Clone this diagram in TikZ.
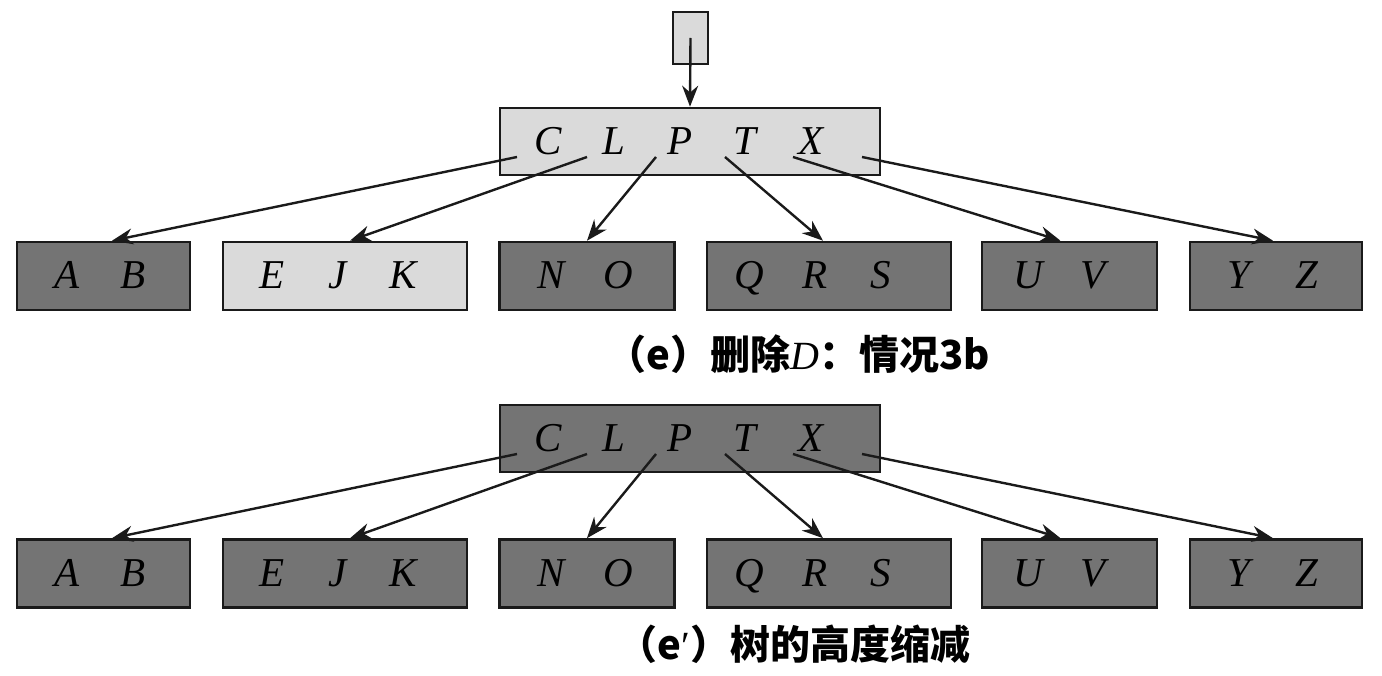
\documentclass[tikz,border=0pt]{standalone}
\usepackage{fontspec}
\setmainfont{Liberation Serif}
\newfontfamily\cjk{Noto Sans CJK SC}
\usetikzlibrary{arrows.meta}
\definecolor{darkfill}{HTML}{747474}
\definecolor{lightfill}{HTML}{DADADA}
\definecolor{ink}{HTML}{1A1A1A}
\newcommand\kk[1]{\makebox[66pt]{\textit{#1}}}
\begin{document}
\begin{tikzpicture}[x=1pt,y=-1pt,
  box/.style={draw=ink, line width=2.6pt, rectangle, inner sep=0pt, text height=26pt, text depth=0pt, font=\fontsize{41}{44}\selectfont},
  darkbox/.style={box, fill=darkfill},
  lightbox/.style={box, fill=lightfill},
  arr/.style={draw=ink, line width=2.4pt, -{Stealth[length=21pt,width=16pt]}},
  captext/.style={font=\cjk\bfseries\fontsize{40}{44}\selectfont}]
\useasboundingbox (0,0) rectangle (1382,676);
% ---------- (e) ----------
\node[lightbox, minimum width=35pt, minimum height=52pt] (ptr) at (690.5,38) {};
\node[lightbox, minimum width=380pt, minimum height=67pt] (ra) at (690,141.5) {\kk{C}\kk{L}\kk{P}\kk{T}\kk{X}\kern20pt};
\node[darkbox, minimum width=173pt, minimum height=68pt] (a1) at (103.5,276) {\kk{A}\kk{B}\kern6pt};
\node[lightbox, minimum width=244pt, minimum height=68pt] (a2) at (345,276) {\kk{E}\kk{J}\kk{K}\kern14pt};
\node[darkbox, minimum width=175pt, minimum height=68pt] (a3) at (587,276) {\kk{N}\kk{O}\kern4pt};
\node[darkbox, minimum width=244pt, minimum height=68pt] (a4) at (829,276) {\kk{Q}\kk{R}\kk{S}\kern28pt};
\node[darkbox, minimum width=175pt, minimum height=68pt] (a5) at (1069.5,276) {\kk{U}\kk{V}\kern14pt};
\node[darkbox, minimum width=172pt, minimum height=68pt] (a6) at (1276,276) {\kk{Y}\kk{Z}\kern4pt};
\foreach \i/\dx in {0/-173,1/-103,2/-34,3/35,4/103,5/172}
  \coordinate (ka\i) at ([xshift=\dx pt, yshift=-15.5pt]ra.center);
\draw[arr] (ptr.center) -- (ra.north);
\draw[arr] (ka0) -- ([xshift=8.5pt]a1.north);
\draw[arr] (ka1) -- ([xshift=5pt]a2.north);
\draw[arr] (ka2) -- ([xshift=0pt]a3.north);
\draw[arr] (ka3) -- ([xshift=-6pt]a4.north);
\draw[arr] (ka4) -- ([xshift=-9pt]a5.north);
\draw[arr] (ka5) -- ([xshift=-3pt]a6.north);
\node[captext] (capa) at (798,354) {（e）删除{\rmfamily\mdseries\itshape D}：情况3b};
% ---------- (e') ----------
\node[darkbox, minimum width=380pt, minimum height=67pt] (rb) at (690,438.5) {\kk{C}\kk{L}\kk{P}\kk{T}\kk{X}\kern20pt};
\node[darkbox, minimum width=173pt, minimum height=68pt] (b1) at (103.5,573.5) {\kk{A}\kk{B}\kern6pt};
\node[darkbox, minimum width=244pt, minimum height=68pt] (b2) at (345,573.5) {\kk{E}\kk{J}\kk{K}\kern14pt};
\node[darkbox, minimum width=175pt, minimum height=68pt] (b3) at (587,573.5) {\kk{N}\kk{O}\kern4pt};
\node[darkbox, minimum width=244pt, minimum height=68pt] (b4) at (829,573.5) {\kk{Q}\kk{R}\kk{S}\kern28pt};
\node[darkbox, minimum width=175pt, minimum height=68pt] (b5) at (1069.5,573.5) {\kk{U}\kk{V}\kern14pt};
\node[darkbox, minimum width=172pt, minimum height=68pt] (b6) at (1276,573.5) {\kk{Y}\kk{Z}\kern4pt};
\foreach \i/\dx in {0/-173,1/-103,2/-34,3/35,4/103,5/172}
  \coordinate (kb\i) at ([xshift=\dx pt, yshift=-15.5pt]rb.center);
\draw[arr] (kb0) -- ([xshift=8.5pt]b1.north);
\draw[arr] (kb1) -- ([xshift=5pt]b2.north);
\draw[arr] (kb2) -- ([xshift=0pt]b3.north);
\draw[arr] (kb3) -- ([xshift=-6pt]b4.north);
\draw[arr] (kb4) -- ([xshift=-9pt]b5.north);
\draw[arr] (kb5) -- ([xshift=-3pt]b6.north);
\node[captext] (capb) at (794,644) {（e{\rmfamily\mdseries ′}）树的高度缩减};
\end{tikzpicture}
\end{document}
